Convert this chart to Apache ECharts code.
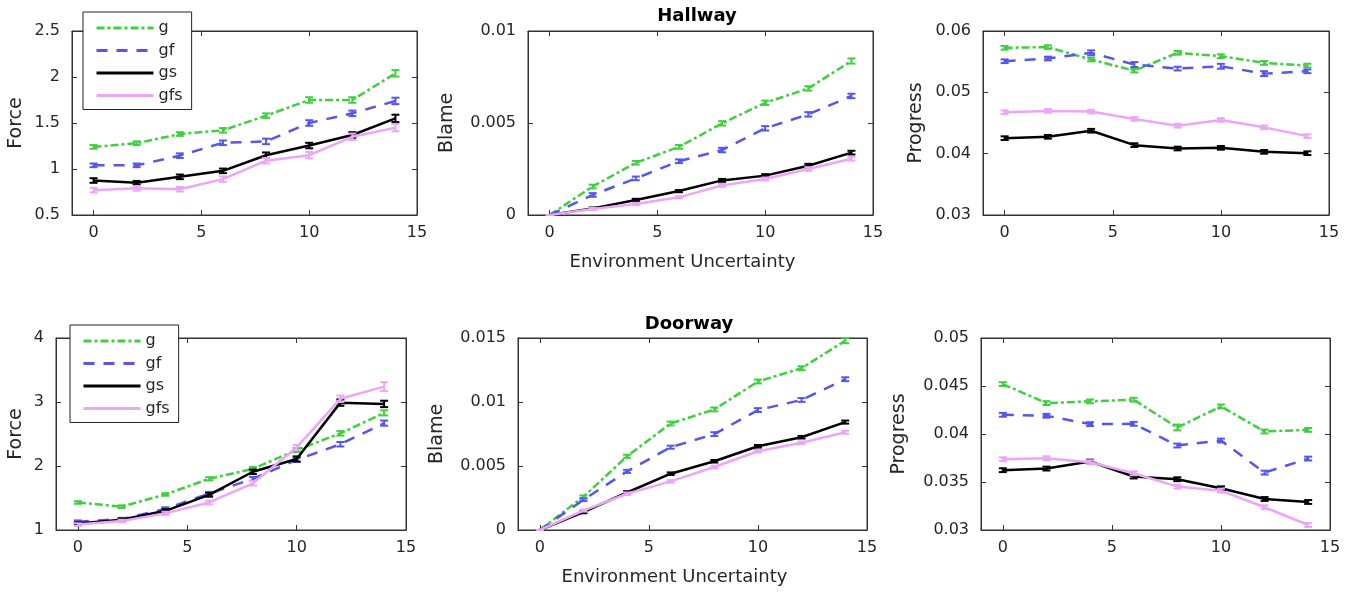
<!DOCTYPE html>
<html>
<head>
<meta charset="utf-8">
<script src="https://cdn.jsdelivr.net/npm/echarts@6/dist/echarts.min.js"></script>
<style>
html, body { margin: 0; padding: 0; background: #fff; }
#chart { width: 1353px; height: 593px; }
</style>
</head>
<body>
<div id="chart"></div>
<script>
// x positions (environment uncertainty)
const xs = [0, 2, 4, 6, 8, 10, 12, 14];
const names = ['g', 'gf', 'gs', 'gfs'];

// Hallway - Force
const hallForceG   = [1.24, 1.28, 1.38, 1.42, 1.58, 1.75, 1.75, 2.04];
const hallForceGf  = [1.04, 1.04, 1.145, 1.285, 1.30, 1.50, 1.605, 1.74];
const hallForceGs  = [0.875, 0.85, 0.915, 0.98, 1.15, 1.255, 1.37, 1.55];
const hallForceGfs = [0.77, 0.79, 0.78, 0.89, 1.09, 1.15, 1.35, 1.45];
// Hallway - Blame
const hallBlameG   = [0, 0.00155, 0.00284, 0.0037, 0.00498, 0.0061, 0.00688, 0.00837];
const hallBlameGf  = [0, 0.00109, 0.00199, 0.00292, 0.00353, 0.00471, 0.00547, 0.00647];
const hallBlameGs  = [0, 0.00036, 0.00082, 0.0013, 0.00188, 0.00214, 0.00268, 0.00339];
const hallBlameGfs = [0, 0.00033, 0.0006, 0.00096, 0.00161, 0.00196, 0.0025, 0.00306];
// Hallway - Progress
const hallProgG   = [0.05726, 0.05737, 0.05535, 0.05354, 0.05644, 0.0559, 0.0548, 0.05436];
const hallProgGf  = [0.05507, 0.05551, 0.05644, 0.05453, 0.05387, 0.05425, 0.05305, 0.05343];
const hallProgGs  = [0.04253, 0.04275, 0.04374, 0.04139, 0.04084, 0.04095, 0.0403, 0.04008];
const hallProgGfs = [0.04675, 0.04697, 0.04686, 0.04566, 0.04456, 0.0455, 0.04429, 0.04286];
// Doorway - Force
const doorForceG   = [1.43, 1.365, 1.555, 1.80, 1.955, 2.25, 2.51, 2.83];
const doorForceGf  = [1.13, 1.17, 1.33, 1.57, 1.80, 2.095, 2.34, 2.67];
const doorForceGs  = [1.10, 1.16, 1.30, 1.55, 1.91, 2.11, 2.99, 2.97];
const doorForceGfs = [1.085, 1.14, 1.26, 1.43, 1.73, 2.29, 3.05, 3.24];
// Doorway - Blame
const doorBlameG   = [0, 0.0026, 0.00576, 0.00832, 0.00942, 0.0116, 0.01264, 0.01479];
const doorBlameGf  = [0, 0.00236, 0.00458, 0.00647, 0.00749, 0.00937, 0.01016, 0.01178];
const doorBlameGs  = [0, 0.00139, 0.00293, 0.0044, 0.00537, 0.00654, 0.00725, 0.00843];
const doorBlameGfs = [0, 0.00152, 0.00283, 0.0038, 0.00492, 0.00615, 0.00681, 0.00764];
// Doorway - Progress
const doorProgG   = [0.0452, 0.04322, 0.0434, 0.04357, 0.04068, 0.04287, 0.04026, 0.04043];
const doorProgGf  = [0.042, 0.0419, 0.04103, 0.04106, 0.0388, 0.03932, 0.03598, 0.03744];
const doorProgGs  = [0.03623, 0.0364, 0.03713, 0.03557, 0.03529, 0.03435, 0.03323, 0.03292];
const doorProgGfs = [0.03737, 0.03748, 0.03706, 0.03591, 0.03452, 0.0341, 0.03237, 0.03052];

// error bar half widths (one per panel and series)
const hallForceErr = [[0.02, 0.02, 0.02, 0.025, 0.025, 0.03, 0.03, 0.035], [0.02, 0.02, 0.025, 0.025, 0.03, 0.03, 0.03, 0.035],
                      [0.025, 0.02, 0.025, 0.025, 0.03, 0.03, 0.03, 0.04], [0.025, 0.025, 0.025, 0.03, 0.03, 0.035, 0.035, 0.04]];
const hallBlameErr = [[0, 0.0001, 0.0001, 0.0001, 0.00012, 0.00012, 0.00012, 0.00014], [0, 0.0001, 0.0001, 0.0001, 0.00012, 0.00012, 0.00012, 0.00012],
                      [0, 0.00005, 0.00006, 0.00006, 0.00008, 0.00008, 0.0001, 0.0001], [0, 0.00005, 0.00006, 0.00006, 0.00008, 0.00008, 0.0001, 0.0001]];
const hallProgErr  = [[0.0003, 0.0003, 0.0003, 0.0003, 0.0003, 0.0003, 0.0003, 0.0003], [0.0003, 0.0003, 0.0004, 0.0004, 0.0003, 0.0004, 0.0004, 0.0003],
                      [0.0003, 0.0003, 0.0003, 0.0003, 0.0003, 0.0003, 0.0003, 0.0003], [0.0003, 0.0003, 0.0003, 0.0003, 0.0003, 0.0003, 0.0003, 0.0003]];
const doorForceErr = [[0.02, 0.02, 0.02, 0.025, 0.03, 0.03, 0.035, 0.04], [0.02, 0.02, 0.025, 0.025, 0.03, 0.03, 0.035, 0.04],
                      [0.02, 0.02, 0.025, 0.03, 0.035, 0.04, 0.05, 0.05], [0.02, 0.02, 0.025, 0.03, 0.035, 0.04, 0.05, 0.07]];
const doorBlameErr = [[0, 0.0001, 0.00012, 0.00015, 0.00015, 0.00015, 0.00015, 0.0002], [0, 0.0001, 0.00012, 0.00012, 0.00015, 0.00015, 0.00015, 0.00015],
                      [0, 0.00008, 0.0001, 0.0001, 0.0001, 0.0001, 0.0001, 0.00012], [0, 0.00008, 0.0001, 0.0001, 0.0001, 0.0001, 0.0001, 0.00012]];
const doorProgErr  = [[0.0002, 0.0002, 0.0002, 0.0002, 0.0003, 0.0002, 0.0002, 0.0002], [0.0002, 0.0002, 0.0002, 0.0002, 0.0002, 0.0002, 0.0002, 0.0002],
                      [0.0002, 0.0002, 0.0002, 0.0002, 0.0002, 0.0002, 0.0002, 0.0002], [0.0002, 0.0002, 0.0002, 0.0002, 0.0002, 0.0002, 0.0002, 0.0002]];

const panels = [
    { ylabel: 'Force',    ymin: 0.5,  ymax: 2.5,   step: 0.5,   vals: [hallForceG, hallForceGf, hallForceGs, hallForceGfs], err: hallForceErr },
    { ylabel: 'Blame',    ymin: 0,    ymax: 0.01,  step: 0.005, vals: [hallBlameG, hallBlameGf, hallBlameGs, hallBlameGfs], err: hallBlameErr },
    { ylabel: 'Progress', ymin: 0.03, ymax: 0.06,  step: 0.01,  vals: [hallProgG, hallProgGf, hallProgGs, hallProgGfs], err: hallProgErr },
    { ylabel: 'Force',    ymin: 1,    ymax: 4,     step: 1,     vals: [doorForceG, doorForceGf, doorForceGs, doorForceGfs], err: doorForceErr },
    { ylabel: 'Blame',    ymin: 0,    ymax: 0.015, step: 0.005, vals: [doorBlameG, doorBlameGf, doorBlameGs, doorBlameGfs], err: doorBlameErr },
    { ylabel: 'Progress', ymin: 0.03, ymax: 0.05,  step: 0.005, vals: [doorProgG, doorProgGf, doorProgGs, doorProgGfs], err: doorProgErr }
];

// grid boxes [left, top, width, height] and y-label gaps
const boxes = [[72, 31, 345, 184], [528, 31, 345, 184], [983, 31, 346, 184],
               [56, 338, 350, 192], [518, 338, 349, 192], [981, 338, 349, 192]];
const yGaps = [46, 71, 57, 30, 71, 72];

const FONT = '"DejaVu Sans", Verdana, sans-serif';
const TXT = '#262626';
const colors = ['#3fcf3f', '#5555f0', '#000000', '#eba6f7'];
const dashes = [[8, 3, 3, 3], [11, 9], 'solid', 'solid'];
const xTicks = [0, 5, 10, 15];

const chart = echarts.init(document.getElementById('chart'));

const grid = [], xAxis = [], yAxis = [], series = [];

panels.forEach((p, i) => {
    const [l, t, w, h] = boxes[i];
    grid.push({ left: l, top: t, width: w, height: h, show: true, borderColor: '#333', borderWidth: 1, backgroundColor: '#fff' });

    const xBase = {
        type: 'value', gridIndex: i, min: -1, max: 15,
        axisLine: { show: true, onZero: false, lineStyle: { color: '#333', width: 1 } },
        axisTick: { show: true, inside: true, length: 5, customValues: xTicks, lineStyle: { color: '#333' } },
        splitLine: { show: false }
    };
    xAxis.push(Object.assign({}, xBase, {
        position: 'bottom',
        axisLabel: { show: true, customValues: xTicks, fontSize: 16, color: TXT, fontFamily: FONT, margin: 10 },
        name: (i === 1 || i === 4) ? 'Environment Uncertainty' : '',
        nameLocation: 'middle', nameGap: 38,
        nameTextStyle: { fontSize: 18, color: TXT, fontFamily: FONT, padding: [0, 36, 0, 0] }
    }));
    xAxis.push(Object.assign({}, xBase, { position: 'top', axisLabel: { show: false } }));

    const yBase = {
        type: 'value', gridIndex: i, min: p.ymin, max: p.ymax, interval: p.step,
        axisLine: { show: true, onZero: false, lineStyle: { color: '#333', width: 1 } },
        axisTick: { show: true, inside: true, length: 5, lineStyle: { color: '#333' } },
        splitLine: { show: false }
    };
    yAxis.push(Object.assign({}, yBase, {
        position: 'left',
        axisLabel: { fontSize: 16, color: TXT, fontFamily: FONT, margin: 12 },
        name: p.ylabel, nameLocation: 'middle', nameGap: yGaps[i], nameRotate: 90,
        nameTextStyle: { fontSize: 19, color: TXT, fontFamily: FONT }
    }));
    yAxis.push(Object.assign({}, yBase, { position: 'right', axisLabel: { show: false } }));

    p.vals.forEach((vals, k) => {
        series.push({
            name: names[k], type: 'line', xAxisIndex: 2 * i, yAxisIndex: 2 * i,
            data: xs.map((x, j) => [x, vals[j]]),
            symbol: 'none', silent: true, z: 3 + k,
            lineStyle: { color: colors[k], width: 2.5, type: dashes[k] },
            itemStyle: { color: colors[k] }
        });
        series.push({
            name: names[k] + ' err', type: 'custom', xAxisIndex: 2 * i, yAxisIndex: 2 * i,
            data: xs.map((x, j) => [x, vals[j] - p.err[k][j], vals[j] + p.err[k][j]]),
            z: 3 + k, silent: true,
            renderItem: (params, api) => {
                const lo = api.coord([api.value(0), api.value(1)]);
                const hi = api.coord([api.value(0), api.value(2)]);
                const cw = 4;
                const st = { stroke: colors[k], lineWidth: 2 };
                return {
                    type: 'group',
                    children: [
                        { type: 'line', shape: { x1: lo[0], y1: lo[1], x2: hi[0], y2: hi[1] }, style: st },
                        { type: 'line', shape: { x1: lo[0] - cw, y1: lo[1], x2: lo[0] + cw, y2: lo[1] }, style: st },
                        { type: 'line', shape: { x1: hi[0] - cw, y1: hi[1], x2: hi[0] + cw, y2: hi[1] }, style: st }
                    ]
                };
            }
        });
    });
});

const legendBase = {
    orient: 'vertical', data: names, selectedMode: false,
    itemWidth: 57, itemHeight: 14, itemGap: 6.5,
    backgroundColor: '#fff', borderColor: '#222', borderWidth: 1,
    padding: [8, 9, 6, 12], z: 20,
    itemStyle: { opacity: 0 },
    lineStyle: { width: 3 },
    textStyle: { fontSize: 16, color: TXT, fontFamily: FONT }
};

chart.setOption({
    animation: false,
    backgroundColor: '#fff',
    title: [
        { text: 'Hallway', left: 692, top: 2, textAlign: 'center', textStyle: { fontSize: 18, fontWeight: 'bold', color: '#000', fontFamily: FONT } },
        { text: 'Doorway', left: 684, top: 310, textAlign: 'center', textStyle: { fontSize: 18, fontWeight: 'bold', color: '#000', fontFamily: FONT } }
    ],
    legend: [
        Object.assign({}, legendBase, { left: 83, top: 12 }),
        Object.assign({}, legendBase, { left: 70, top: 325 })
    ],
    grid: grid,
    xAxis: xAxis,
    yAxis: yAxis,
    series: series
});
</script>
</body>
</html>
